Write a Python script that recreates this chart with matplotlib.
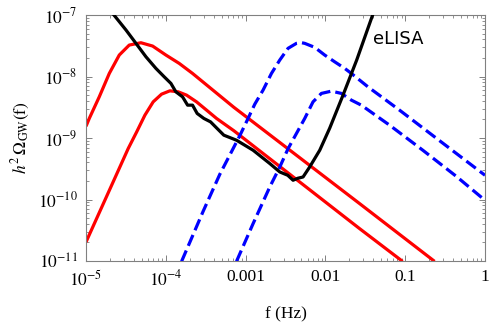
import numpy as np
import matplotlib
matplotlib.use("Agg")
import matplotlib.pyplot as plt
from matplotlib.ticker import LogLocator, FixedLocator, FixedFormatter, NullFormatter

plt.rcParams['font.family'] = ['Liberation Serif', 'DejaVu Serif']
plt.rcParams['mathtext.fontset'] = 'stix'

# ---- data (log10 values) ----
red1_logf = [-5.000, -4.959, -4.834, -4.708, -4.583, -4.458, -4.312, -4.165, -3.999, -3.832, -3.665, -3.148, -1.571, -0.632]
red1_logo = [-8.810, -8.682, -8.331, -7.950, -7.651, -7.489, -7.451, -7.505, -7.651, -7.787, -7.950, -8.500, -10.067, -11.006]

red2_logf = [-5.000, -4.816, -4.608, -4.471, -4.365, -4.262, -4.158, -4.053, -3.949, -3.845, -3.740, -3.615, -3.489, -3.364, -3.148, -1.571, -1.033]
red2_logo = [-10.692, -10.163, -9.565, -9.171, -8.901, -8.629, -8.412, -8.287, -8.233, -8.249, -8.303, -8.412, -8.547, -8.682, -8.881, -10.474, -11.006]

blue1_logf = [-3.802, -3.532, -3.323, -3.073, -2.969, -2.885, -2.781, -2.676, -2.572, -2.468, -2.363, -2.309, -2.259,
              -2.134, -2.009, -1.884, -1.758, -1.675, -1.467, -1.071, -0.569, 0.0]
blue1_logo = [-11.006, -10.192, -9.590, -8.963, -8.682, -8.450, -8.221, -7.950, -7.733, -7.542, -7.461, -7.448, -7.461,
              -7.526, -7.651, -7.761, -7.868, -7.950, -8.168, -8.547, -9.044, -9.606]

blue2_logf = [-3.114, -2.906, -2.697, -2.573, -2.468, -2.259, -2.155, -2.050, -1.925, -1.800, -1.675, -1.550, -1.195, -0.779, -0.361, 0.0]
blue2_logo = [-11.006, -10.392, -9.796, -9.476, -9.174, -8.682, -8.412, -8.275, -8.238, -8.275, -8.384, -8.466, -8.792, -9.199, -9.622, -10.013]

elisa_logf = [-4.650, -4.499, -4.374, -4.249, -4.124, -4.020, -3.936, -3.874, -3.790, -3.727, -3.665, -3.607,
              -3.523, -3.439, -3.357, -3.273, -3.114, -2.906, -2.697, -2.572, -2.472, -2.405, -2.347, -2.280,
              -2.197, -2.071, -1.946, -1.784, -1.608, -1.408]
elisa_logo = [-7.000, -7.244, -7.461, -7.679, -7.868, -8.005, -8.112, -8.249, -8.331, -8.466, -8.466, -8.601,
              -8.682, -8.738, -8.845, -8.954, -9.036, -9.199, -9.415, -9.552, -9.606, -9.687, -9.655, -9.634,
              -9.471, -9.199, -8.840, -8.319, -7.733, -7.000]

xtick_vals = [1e-5, 1e-4, 1e-3, 1e-2, 1e-1, 1]
xtick_labels = [r'$10^{-5}$', r'$10^{-4}$', '0.001', '0.01', '0.1', '1']
ytick_vals = [1e-11, 1e-10, 1e-9, 1e-8, 1e-7]
ytick_labels = [r'$10^{-11}$', r'$10^{-10}$', r'$10^{-9}$', r'$10^{-8}$', r'$10^{-7}$']

fig = plt.figure(figsize=(4.91, 3.27), dpi=100)
ax = fig.add_axes([86/491, 1-261/327, 399/491, 246/327])

def p(lf, lo):
    return 10**np.array(lf), 10**np.array(lo)

ax.plot(*p(red1_logf, red1_logo), color='#ff0000', lw=2.3, solid_capstyle='butt', solid_joinstyle='round', zorder=2)
ax.plot(*p(red2_logf, red2_logo), color='#ff0000', lw=2.3, solid_capstyle='butt', solid_joinstyle='round', zorder=2)
ax.plot(*p(blue1_logf, blue1_logo), color='#0000ff', lw=2.3, dashes=(3.7, 1.6), zorder=3)
ax.plot(*p(blue2_logf, blue2_logo), color='#0000ff', lw=2.3, dashes=(3.7, 1.6), zorder=3)
ax.plot(*p(elisa_logf, elisa_logo), color='black', lw=2.3, solid_joinstyle='round', zorder=4)

ax.set_xscale('log')
ax.set_yscale('log')
ax.set_xlim(1e-5, 1)
ax.set_ylim(1e-11, 1e-7)

ax.xaxis.set_major_locator(FixedLocator(xtick_vals))
ax.xaxis.set_major_formatter(FixedFormatter(xtick_labels))
ax.yaxis.set_major_locator(FixedLocator(ytick_vals))
ax.yaxis.set_major_formatter(FixedFormatter(ytick_labels))
ax.xaxis.set_minor_locator(LogLocator(base=10, subs=np.arange(2, 10), numticks=20))
ax.yaxis.set_minor_locator(LogLocator(base=10, subs=np.arange(2, 10), numticks=20))
ax.xaxis.set_minor_formatter(NullFormatter())
ax.yaxis.set_minor_formatter(NullFormatter())

for s in ax.spines.values():
    s.set_color('#808080')
    s.set_linewidth(0.8)
ax.tick_params(which='both', direction='in', top=True, right=True, color='#808080', labelsize=12.5)
ax.tick_params(which='major', length=4, width=0.7, pad=6)
ax.tick_params(which='minor', length=2, width=0.6)

ax.set_xlabel('f (Hz)', fontsize=12.5, labelpad=12)
ax.set_ylabel(r'$h^2\,\Omega_{\mathrm{GW}}(\mathrm{f})$', fontsize=12.5, labelpad=4)

ax.text(10**(-1.40), 10**(-7.39), 'eLISA', family='DejaVu Sans', fontsize=13, ha='left', va='center')

fig.savefig('out.png', dpi=100)
